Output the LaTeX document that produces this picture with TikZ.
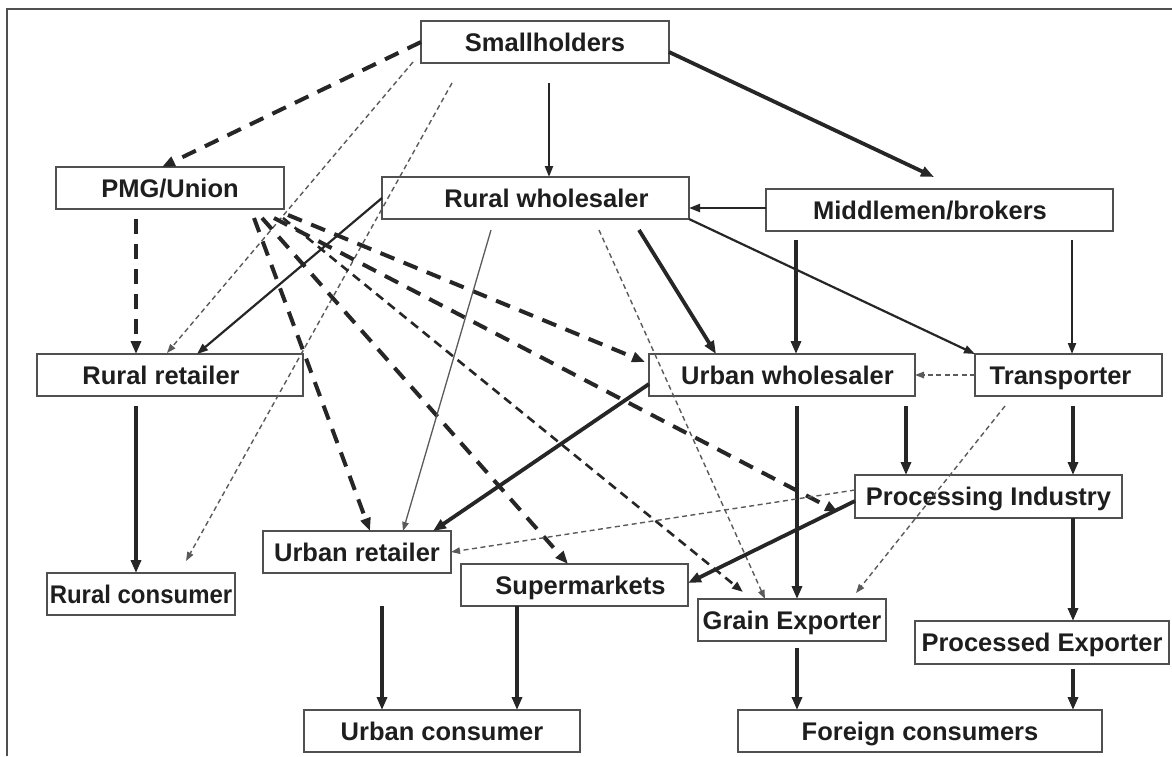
\documentclass[tikz,border=0pt]{standalone}
\usepackage{fontspec}
\usepackage{graphicx}
\setmainfont{Liberation Sans}
\usetikzlibrary{arrows.meta,calc}
\definecolor{ln}{HTML}{262626}
\definecolor{boxc}{HTML}{505050}
\definecolor{txt}{HTML}{1E1E1E}
\definecolor{lg}{HTML}{5A5A5A}
\begin{document}
\begin{tikzpicture}[x=1pt,y=-1pt,
 box/.style={draw=boxc,line width=1.8pt,inner sep=0pt,outer sep=0pt,minimum height=42pt,
   text height=18.3pt,text depth=0pt,text=txt,font=\bfseries\fontsize{25.5}{28}\selectfont},
 solidA/.style={draw=ln,line width=3.8pt,-{Triangle[length=13pt,width=10pt]}},
 solidB/.style={draw=ln,line width=2.2pt,-{Triangle[length=11pt,width=8pt]}},
 solidC/.style={draw=lg,line width=1.3pt,-{Triangle[length=9pt,width=6.5pt]}},
 dashA/.style={draw=ln,line width=4pt,dash pattern=on 15pt off 10pt,-{Triangle[length=13pt,width=10pt]}},
 dashB/.style={draw=ln,line width=2.6pt,dash pattern=on 9pt off 6pt,-{Triangle[length=11pt,width=8pt]}},
 dashC/.style={draw=lg,line width=1.4pt,dash pattern=on 5pt off 3.5pt,-{Triangle[length=9pt,width=6.5pt]}},
 frame/.style={draw=boxc,line width=2pt}
]
\useasboundingbox (0,0) rectangle (1172,756);
\draw[frame] (7,756) -- (7,9) -- (1172,9);

\node[box,minimum width=248pt] (S) at (545,42) {Smallholders};
\node[box,minimum width=228pt] (PMG) at (170,188) {PMG/Union};
\node[box,minimum width=307pt] (RW) at (535.5,198) {\hspace*{22pt}Rural wholesaler};
\node[box,minimum width=347pt] (MB) at (939.5,210) {Middlemen/brokers\hspace*{19pt}};
\node[box,minimum width=266pt] (RR) at (170,375) {Rural retailer\hspace*{18pt}};
\node[box,minimum width=266pt] (UW) at (782,375) {\hspace*{11pt}Urban wholesaler};
\node[box,minimum width=187pt] (TR) at (1068.5,375) {Transporter\hspace*{16pt}};
\node[box,minimum width=267pt,minimum height=43pt] (PI) at (988.5,496.5) {Processing Industry};
\node[box,minimum width=188pt] (UR) at (357,552) {Urban retailer};
\node[box,minimum width=227pt] (SM) at (574.5,585) {\hspace*{12pt}Supermarkets};
\node[box,minimum width=188pt] (RC) at (141,594) {\scalebox{0.94}[1]{Rural consumer}};
\node[box,minimum width=188pt] (GE) at (792,620) {Grain Exporter};
\node[box,minimum width=254pt,minimum height=43pt] (PE) at (1042,642.5) {Processed Exporter};
\node[box,minimum width=276pt] (UC) at (442,731) {Urban consumer};
\node[box,minimum width=364pt] (FC) at (920,731) {Foreign consumers};

% from Smallholders
\draw[dashA] (S.west) -- ($(PMG.north)+(-8,0)$);
\draw[dashC] ($(S.south west)+(-8,-1)$) -- ($(RR.north)+(-3,-1)$);
\draw[dashC] ($(S.south west)+(31,20)$) -- ($(RC.north)+(45,-12)$);
\draw[solidB] ($(S.south)+(4,20)$) -- ($(RW.north)+(13.5,0)$);
\draw[solidA] ($(S.east)+(0,10)$) -- ($(MB.north)+(-5.5,-12)$);
% from PMG/Union
\draw[dashA] ($(PMG.south)+(-34,10)$) -- ($(RR.north)+(-34,0)$);
\draw[dashA] ($(PMG.south east)+(-30,9)$) -- ($(UR.north)+(13,0)$);
\draw[dashA] ($(PMG.south east)+(-22,9)$) -- ($(SM.north)+(-6.5,0)$);
\draw[dashB] ($(PMG.south east)+(-1,9)$) -- ($(GE.north west)+(45,-7)$);
\draw[dashA] ($(PMG.south east)+(4,6)$) -- ($(UW.west)+(-4,-13)$);
\draw[dashA] ($(PMG.south east)+(-10,9)$) -- ($(PI.south west)+(-17,-6)$);
% from Rural wholesaler
\draw[solidB] (RW.west) -- ($(RR.north)+(27,0)$);
\draw[solidC] ($(RW.south)+(-44.5,11)$) -- ($(UR.north)+(46,0)$);
\draw[dashC] ($(RW.south)+(63.5,11)$) -- ($(GE.north)+(-27,0)$);
\draw[solidA] ($(RW.south)+(103.5,11)$) -- ($(UW.north)+(-66,0)$);
\draw[solidB] (RW.south east) -- (TR.north west);
% from Middlemen/brokers
\draw[solidB] ($(MB.west)+(0,-2)$) -- ($(RW.east)+(0,10)$);
\draw[solidA] ($(MB.south west)+(30,9)$) -- ($(UW.north)+(14,0)$);
\draw[solidB] ($(MB.south east)+(-41,9)$) -- ($(TR.north)+(3.5,0)$);
% from Urban wholesaler
\draw[solidA] ($(UW.west)+(0,9)$) -- ($(UR.north east)+(-18,0)$);
\draw[solidA] ($(UW.south)+(15,10)$) -- ($(GE.north)+(5,0)$);
\draw[solidA] ($(UW.south east)+(-9,10)$) -- ($(PI.north west)+(51,0)$);
% from Transporter
\draw[dashC] (TR.west) -- (UW.east);
\draw[solidA] ($(TR.south)+(4.5,10)$) -- ($(PI.north)+(84.5,0)$);
\draw[dashC] ($(TR.south west)+(30,10)$) -- ($(GE.north east)+(-30,-6)$);
% from Processing Industry
\draw[dashC] ($(PI.west)+(0,-6.5)$) -- (UR.east);
\draw[solidA] ($(PI.west)+(0,4.5)$) -- ($(SM.east)+(0,-2)$);
\draw[solidA] ($(PI.south)+(84.5,0)$) -- ($(PE.north)+(31,0)$);
% to consumers
\draw[solidA] ($(RR.south)+(-34,10)$) -- ($(RC.north)+(-5,0)$);
\draw[solidA] ($(UR.south)+(25,33)$) -- ($(UC.north)+(-60,0)$);
\draw[solidA] ($(SM.south)+(-57.5,0)$) -- ($(UC.north)+(75,0)$);
\draw[solidA] ($(GE.south)+(5,7)$) -- ($(FC.north west)+(59,0)$);
\draw[solidA] ($(PE.south)+(31,5)$) -- ($(FC.north east)+(-29,0)$);
\end{tikzpicture}
\end{document}
